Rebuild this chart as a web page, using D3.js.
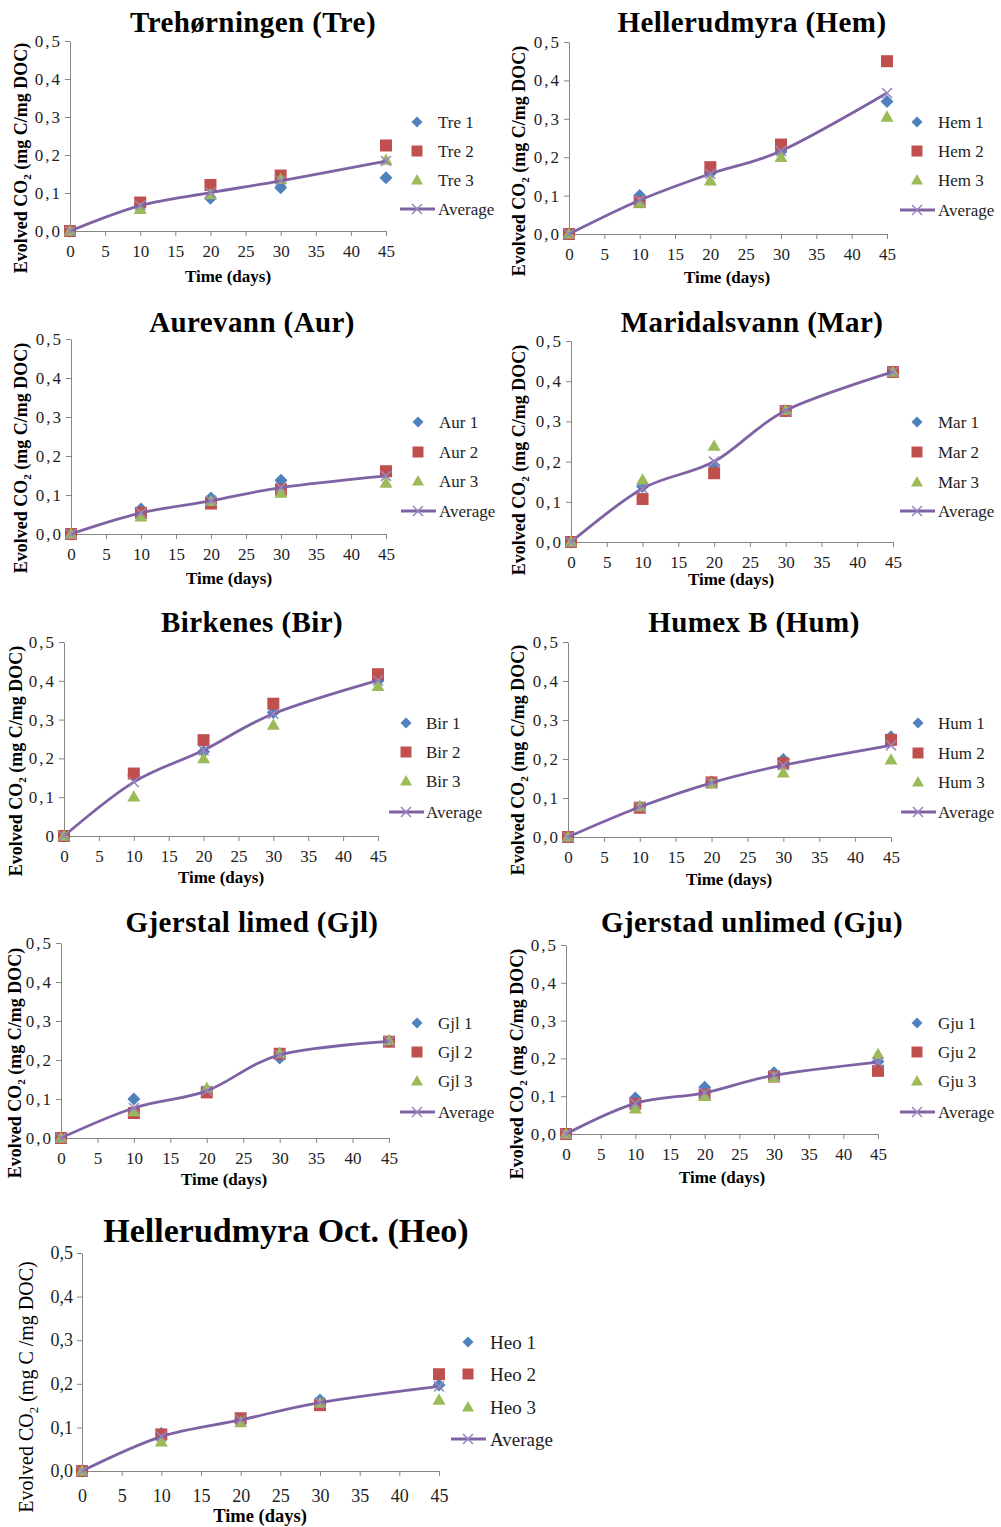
<!DOCTYPE html>
<html>
<head>
<meta charset="utf-8">
<script src="https://cdn.jsdelivr.net/npm/d3@7"></script>
<style>
  html, body { margin: 0; padding: 0; background: #fff; }
  svg { display: block; }
</style>
</head>
<body>
<svg id="fig" width="1001" height="1527"></svg>
<script>
// ---- data -------------------------------------------------------------
const days = [0, 10, 20, 30, 45];
const xTicks = [0, 5, 10, 15, 20, 25, 30, 35, 40, 45];
const yTicks = [0, 0.1, 0.2, 0.3, 0.4, 0.5];
const yTickLabels = ["0,0", "0,1", "0,2", "0,3", "0,4", "0,5"];
const yTickLabelsPlain = ["0", "0,1", "0,2", "0,3", "0,4", "0,5"];

const titles = ["Trehørningen (Tre)", "Hellerudmyra (Hem)", "Aurevann (Aur)", "Maridalsvann (Mar)",
  "Birkenes (Bir)", "Humex B (Hum)", "Gjerstal limed (Gjl)", "Gjerstad unlimed (Gju)",
  "Hellerudmyra Oct. (Heo)"];
const codes = ["Tre", "Hem", "Aur", "Mar", "Bir", "Hum", "Gjl", "Gju", "Heo"];

// replicate 1, 2, 3 and their average, per site
const rep1 = [
  [0, 0.069, 0.086, 0.114, 0.140],
  [0, 0.100, 0.158, 0.214, 0.345],
  [0, 0.064, 0.092, 0.138, 0.155],
  [0, 0.138, 0.190, 0.326, 0.423],
  [0, 0.155, 0.217, 0.318, 0.400],
  [0, 0.077, 0.141, 0.199, 0.257],
  [0, 0.100, 0.118, 0.205, 0.248],
  [0, 0.095, 0.124, 0.162, 0.192],
  [0, 0.086, 0.118, 0.163, 0.197]
];
const rep2 = [
  [0, 0.075, 0.121, 0.146, 0.225],
  [0, 0.083, 0.174, 0.233, 0.450],
  [0, 0.054, 0.078, 0.114, 0.161],
  [0, 0.107, 0.171, 0.326, 0.423],
  [0, 0.161, 0.247, 0.341, 0.417],
  [0, 0.075, 0.140, 0.189, 0.249],
  [0, 0.064, 0.117, 0.216, 0.247],
  [0, 0.080, 0.104, 0.152, 0.167],
  [0, 0.084, 0.121, 0.151, 0.222]
];
const rep3 = [
  [0, 0.057, 0.096, 0.136, 0.187],
  [0, 0.081, 0.139, 0.200, 0.305],
  [0, 0.044, 0.084, 0.105, 0.131],
  [0, 0.155, 0.239, 0.328, 0.423],
  [0, 0.101, 0.200, 0.286, 0.386],
  [0, 0.078, 0.137, 0.165, 0.198],
  [0, 0.068, 0.128, 0.218, 0.250],
  [0, 0.067, 0.100, 0.150, 0.211],
  [0, 0.067, 0.111, 0.156, 0.163]
];
const average = [
  [0, 0.067, 0.101, 0.132, 0.184],
  [0, 0.088, 0.157, 0.216, 0.367],
  [0, 0.054, 0.085, 0.119, 0.149],
  [0, 0.133, 0.200, 0.327, 0.423],
  [0, 0.139, 0.221, 0.315, 0.401],
  [0, 0.077, 0.139, 0.184, 0.235],
  [0, 0.077, 0.121, 0.213, 0.248],
  [0, 0.081, 0.109, 0.155, 0.190],
  [0, 0.079, 0.117, 0.157, 0.194]
];

// ---- layout of the nine panels (pixels) --------------------------------
const layout = [
  {x0: 70,  x1: 386, y0: 231,  y1: 41,   tcx: 253, tby: 32,   mx: 417, ltx: 438, ly: [122, 151, 180, 209],     ycx: 21,  ycy: 158,  tmx: 228, tmy: 282},
  {x0: 569, x1: 887, y0: 234,  y1: 42,   tcx: 752, tby: 32,   mx: 917, ltx: 938, ly: [122, 151, 180, 210],     ycx: 519, ycy: 161,  tmx: 727, tmy: 283},
  {x0: 71,  x1: 386, y0: 534,  y1: 339,  tcx: 252, tby: 332,  mx: 418, ltx: 439, ly: [422, 452, 481, 511],     ycx: 21,  ycy: 458,  tmx: 229, tmy: 584},
  {x0: 571, x1: 893, y0: 542,  y1: 341,  tcx: 752, tby: 332,  mx: 917, ltx: 938, ly: [422, 452, 482, 511],     ycx: 519, ycy: 460,  tmx: 731, tmy: 585},
  {x0: 64,  x1: 378, y0: 836,  y1: 642,  tcx: 252, tby: 632,  mx: 406, ltx: 426, ly: [723, 752, 781, 812],     ycx: 16,  ycy: 761,  tmx: 221, tmy: 883, plainZero: true},
  {x0: 568, x1: 891, y0: 837,  y1: 642,  tcx: 754, tby: 632,  mx: 918, ltx: 938, ly: [723, 753, 782, 812],     ycx: 518, ycy: 760,  tmx: 729, tmy: 885},
  {x0: 61,  x1: 389, y0: 1138, y1: 943,  tcx: 252, tby: 932,  mx: 417, ltx: 438, ly: [1023, 1052, 1081, 1112], ycx: 15,  ycy: 1063, tmx: 224, tmy: 1185},
  {x0: 566, x1: 878, y0: 1134, y1: 945,  tcx: 752, tby: 932,  mx: 917, ltx: 938, ly: [1023, 1052, 1081, 1112], ycx: 517, ycy: 1064, tmx: 722, tmy: 1183},
  {x0: 82,  x1: 439, y0: 1471, y1: 1253, tcx: 286, tby: 1242, mx: 468, ltx: 490, ly: [1342, 1374, 1407, 1439], ycx: 26,  ycy: 1387, tmx: 260, tmy: 1522, large: true}
];

// ---- styles -------------------------------------------------------------
const FONT = "'Liberation Serif', 'Times New Roman', serif";
const AXIS = "#868686";
const C1 = "#4F81BD", C2 = "#C0504D", C3 = "#9BBB59", CA = "#7F62A3", CX = "#9A86BF";

const svg = d3.select("#fig");

const diamond = s => d3.symbol(d3.symbolSquare, s * s / 2)();
const square = s => d3.symbol(d3.symbolSquare, s * s)();
const triangle = s => d3.symbol(d3.symbolTriangle, s * s * Math.sqrt(3) / 4)();
const cross = s => `M${-s/2},${-s/2}L${s/2},${s/2}M${-s/2},${s/2}L${s/2},${-s/2}`;

function drawPanel(i) {
  const L = layout[i];
  const big = !!L.large;
  const g = svg.append("g").attr("class", "panel-" + codes[i]);

  const x = d3.scaleLinear().domain([0, 45]).range([L.x0, L.x1]);
  const y = d3.scaleLinear().domain([0, 0.5]).range([L.y0, L.y1]);
  const labels = L.plainZero ? yTickLabelsPlain : yTickLabels;

  // axes
  const xa = g.append("g").attr("transform", `translate(0,${L.y0})`)
    .call(d3.axisBottom(x).tickValues(xTicks).tickFormat(d => String(d))
      .tickSize(5).tickSizeOuter(0).tickPadding(big ? 13 : 9));
  const ya = g.append("g").attr("transform", `translate(${L.x0},0)`)
    .call(d3.axisLeft(y).tickValues(yTicks).tickFormat((d, k) => labels[k])
      .tickSize(5).tickSizeOuter(0).tickPadding(big ? 4 : 3));
  [xa, ya].forEach(a => {
    a.attr("font-family", FONT).attr("font-size", big ? 18 : 17);
    a.select(".domain").attr("stroke", AXIS);
    a.selectAll(".tick line").attr("stroke", AXIS);
    a.selectAll(".tick text").attr("fill", "#1e1e1e");
  });
  if (!big) ya.selectAll(".tick text").attr("letter-spacing", "2px");

  // replicate markers
  const pts = (arr) => days.map((d, k) => [x(d), y(arr[k])]);
  g.append("g").selectAll("path").data(pts(rep1[i])).join("path")
    .attr("transform", d => `translate(${d[0]},${d[1]}) rotate(45)`)
    .attr("d", diamond(13)).attr("fill", C1);
  g.append("g").selectAll("path").data(pts(rep2[i])).join("path")
    .attr("transform", d => `translate(${d[0]},${d[1]})`)
    .attr("d", square(12)).attr("fill", C2);
  g.append("g").selectAll("path").data(pts(rep3[i])).join("path")
    .attr("transform", d => `translate(${d[0]},${d[1] + 1})`)
    .attr("d", triangle(13)).attr("fill", C3);

  // smoothed average line with cross markers
  const line = d3.line().x(d => x(d[0])).y(d => y(d[1])).curve(d3.curveCardinal.tension(0));
  g.append("path").datum(days.map((d, k) => [d, average[i][k]]))
    .attr("d", line).attr("fill", "none").attr("stroke", CA).attr("stroke-width", 2.8)
    .attr("stroke-linejoin", "round");
  g.append("g").selectAll("path").data(pts(average[i])).join("path")
    .attr("transform", d => `translate(${d[0]},${d[1]})`)
    .attr("d", cross(10)).attr("stroke", CX).attr("stroke-width", 1.5).attr("fill", "none");

  // title
  g.append("text").attr("x", L.tcx).attr("y", L.tby).attr("text-anchor", "middle")
    .attr("font-family", FONT).attr("font-weight", "bold")
    .attr("font-size", big ? 34 : 29).attr("letter-spacing", big ? "0px" : "0.4px")
    .attr("fill", "#000").text(titles[i]);

  // axis titles
  g.append("text").attr("x", L.tmx).attr("y", L.tmy).attr("text-anchor", "middle")
    .attr("font-family", FONT).attr("font-weight", "bold").attr("font-size", big ? 18.5 : 17)
    .attr("fill", "#000").text("Time (days)");

  const yl = g.append("text")
    .attr("transform", `translate(${L.ycx},${L.ycy}) rotate(-90)`)
    .attr("text-anchor", "middle").attr("dy", "0.35em")
    .attr("font-family", FONT).attr("font-weight", big ? "normal" : "bold")
    .attr("font-size", big ? 20 : 18).attr("fill", "#000");
  yl.append("tspan").text("Evolved CO");
  yl.append("tspan").attr("font-size", big ? 13 : 11).attr("dy", big ? 5 : 4).text("2");
  yl.append("tspan").attr("dy", big ? -5 : -4).text(big ? " (mg C /mg DOC)" : " (mg C/mg DOC)");

  // legend
  const names = [codes[i] + " 1", codes[i] + " 2", codes[i] + " 3", "Average"];
  const lg = g.append("g");
  lg.append("path").attr("transform", `translate(${L.mx},${L.ly[0]}) rotate(45)`)
    .attr("d", diamond(11)).attr("fill", C1);
  lg.append("path").attr("transform", `translate(${L.mx},${L.ly[1]})`)
    .attr("d", square(11)).attr("fill", C2);
  lg.append("path").attr("transform", `translate(${L.mx},${L.ly[2] + 1})`)
    .attr("d", triangle(12)).attr("fill", C3);
  lg.append("line").attr("x1", L.mx - 17).attr("x2", L.mx + 18)
    .attr("y1", L.ly[3]).attr("y2", L.ly[3]).attr("stroke", CA).attr("stroke-width", 2.8);
  lg.append("path").attr("transform", `translate(${L.mx},${L.ly[3]})`)
    .attr("d", cross(10)).attr("stroke", CX).attr("stroke-width", 1.5);
  lg.selectAll("text").data(names).join("text")
    .attr("x", L.ltx).attr("y", (d, k) => L.ly[k]).attr("dy", "0.35em")
    .attr("font-family", FONT).attr("font-size", big ? 19 : 17).attr("fill", "#1e1e1e")
    .text(d => d);
}

layout.forEach((_, i) => drawPanel(i));
</script>
</body>
</html>
